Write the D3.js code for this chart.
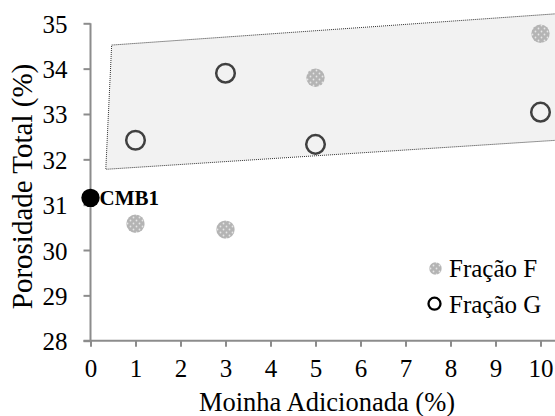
<!DOCTYPE html>
<html>
<head>
<meta charset="utf-8">
<script src="https://cdn.jsdelivr.net/npm/d3@7"></script>
</head>
<body style="margin:0;background:#fff">
<script>
// valores
var xTicks = [0, 1, 2, 3, 4, 5, 6, 7, 8, 9, 10];
var yTicks = [28, 29, 30, 31, 32, 33, 34, 35];
var fracaoFx = [1, 3, 5, 10];
var fracaoFy = [30.58, 30.45, 33.8, 34.77];
var fracaoGx = [1, 3, 5, 10];
var fracaoGy = [32.42, 33.9, 32.33, 33.04];
var refX = [0];
var refY = [31.15];
var refLabel = ['CMB1'];
// faixa sombreada (cantos: sup-esq, sup-dir, inf-dir, inf-esq)
var faixaX = [0.47, 10.35, 10.35, 0.34];
var faixaY = [34.52, 35.21, 32.42, 31.78];
var legenda = ['Fração F', 'Fração G'];

var W = 555, H = 416;
var FONT = "'Liberation Serif', 'Times New Roman', serif";
var svg = d3.select('body').append('svg')
    .attr('width', W)
    .attr('height', H)
    .style('font-family', FONT);

var defs = svg.append('defs');
var pat = defs.append('pattern')
    .attr('id', 'pontos')
    .attr('patternUnits', 'userSpaceOnUse')
    .attr('width', 6)
    .attr('height', 6);
pat.append('rect').attr('width', 6).attr('height', 6).attr('fill', '#b4b4b4');
pat.append('circle').attr('cx', 1.5).attr('cy', 1.5).attr('r', 0.9).attr('fill', '#e6e6e6');
pat.append('circle').attr('cx', 4.5).attr('cy', 4.5).attr('r', 0.9).attr('fill', '#e6e6e6');

var x = d3.scaleLinear().domain([0, 10]).range([90.5, 540.5]);
var y = d3.scaleLinear().domain([28, 35]).range([340.7, 23.3]);

// faixa
svg.append('polygon')
    .attr('points', faixaX.map(function (d, i) { return x(d) + ',' + y(faixaY[i]); }).join(' '))
    .attr('fill', '#f2f2f2')
    .attr('stroke', '#333')
    .attr('stroke-width', 1)
    .attr('stroke-dasharray', '1,1');

var axisColor = '#8c8c8c';

// eixo y
var yAxis = svg.append('g')
    .attr('transform', 'translate(' + x(0) + ',0)')
    .call(d3.axisLeft(y).tickValues(yTicks).tickSize(7).tickPadding(16).tickFormat(d3.format('d')));
yAxis.select('.domain').remove();
yAxis.selectAll('.tick line').attr('stroke', axisColor).attr('stroke-width', 2);
yAxis.selectAll('.tick text')
    .style('font-family', FONT)
    .style('font-size', '25px')
    .attr('fill', '#000')
    .attr('dy', '0.36em');
svg.append('line')
    .attr('x1', x(0)).attr('x2', x(0))
    .attr('y1', y(35)).attr('y2', y(28))
    .attr('stroke', axisColor).attr('stroke-width', 2);

// eixo x
var xAxis = svg.append('g')
    .attr('transform', 'translate(0,' + y(28) + ')')
    .call(d3.axisBottom(x).tickValues(xTicks).tickSize(6).tickPadding(13).tickFormat(d3.format('d')));
xAxis.select('.domain').remove();
xAxis.selectAll('.tick line').attr('stroke', axisColor).attr('stroke-width', 2);
xAxis.selectAll('.tick text')
    .style('font-family', FONT)
    .style('font-size', '25px')
    .attr('fill', '#000');
svg.append('line')
    .attr('x1', x(0) - 7).attr('x2', W)
    .attr('y1', y(28)).attr('y2', y(28))
    .attr('stroke', axisColor).attr('stroke-width', 2);

// titulos
svg.append('text')
    .attr('x', 327).attr('y', 411)
    .attr('text-anchor', 'middle')
    .style('font-size', '26.5px')
    .text('Moinha Adicionada (%)');
svg.append('text')
    .attr('transform', 'translate(32,186.5) rotate(-90)')
    .attr('text-anchor', 'middle')
    .style('font-size', '29px')
    .text('Porosidade Total (%)');

// series
svg.selectAll('.fF')
    .data(fracaoFx)
    .enter().append('circle')
    .attr('class', 'fF')
    .attr('cx', function (d) { return x(d); })
    .attr('cy', function (d, i) { return y(fracaoFy[i]); })
    .attr('r', 9.2)
    .attr('fill', 'url(#pontos)');

svg.selectAll('.fG')
    .data(fracaoGx)
    .enter().append('circle')
    .attr('class', 'fG')
    .attr('cx', function (d) { return x(d); })
    .attr('cy', function (d, i) { return y(fracaoGy[i]); })
    .attr('r', 9.3)
    .attr('fill', 'none')
    .attr('stroke', '#404040')
    .attr('stroke-width', 2.5);

svg.selectAll('.ref')
    .data(refX)
    .enter().append('circle')
    .attr('class', 'ref')
    .attr('cx', function (d) { return x(d); })
    .attr('cy', function (d, i) { return y(refY[i]); })
    .attr('r', 9.2)
    .attr('fill', '#000');

svg.selectAll('.refLabel')
    .data(refX)
    .enter().append('text')
    .attr('class', 'refLabel')
    .attr('x', function (d) { return x(d) + 9; })
    .attr('y', function (d, i) { return y(refY[i]) + 7.5; })
    .style('font-size', '21px')
    .style('font-weight', 'bold')
    .text(function (d, i) { return refLabel[i]; });

// legenda
var leg = svg.append('g');
leg.append('circle').attr('cx', 435.5).attr('cy', 268.5).attr('r', 6.2).attr('fill', 'url(#pontos)');
leg.append('circle').attr('cx', 434.5).attr('cy', 303.7).attr('r', 6).attr('fill', 'none')
    .attr('stroke', '#000').attr('stroke-width', 2.3);
leg.selectAll('text')
    .data(legenda)
    .enter().append('text')
    .attr('x', 449)
    .attr('y', function (d, i) { return 277 + i * 36; })
    .style('font-size', '25px')
    .text(function (d) { return d; });
</script>
</body>
</html>
